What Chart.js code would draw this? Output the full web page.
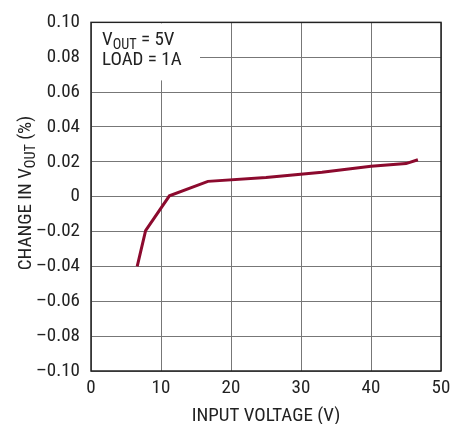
<!DOCTYPE html>
<html>
<head>
<meta charset="utf-8">
<script src="https://cdn.jsdelivr.net/npm/chart.js@4"></script>
<style>
  html, body { margin: 0; padding: 0; background: #fff; }
  #wrap { width: 466px; height: 424px; }
</style>
</head>
<body>
<div id="wrap"><canvas id="chart" width="466" height="424"></canvas></div>
<script>
// Data
const inputVoltage = [6.6, 7.8, 11.2, 16.7, 25, 33, 40, 45, 46.7];
const changeInVout = [-0.04, -0.0195, 0.0005, 0.0088, 0.011, 0.014, 0.0175, 0.019, 0.0212];
const yTicks = [-0.10, -0.08, -0.06, -0.04, -0.02, 0, 0.02, 0.04, 0.06, 0.08, 0.10];
const xTicks = [0, 10, 20, 30, 40, 50];

const FONT = "'Roboto Condensed', 'Liberation Sans', Arial, sans-serif";
const SIZE = 19;
const lineColor = "#8c0a2e";

function fmtY(v) {
    if (Math.abs(v) < 1e-9) return "0";
    const s = Math.abs(v).toFixed(2);
    return v < 0 ? "\u2013" + s : s;
}

// draw text with a subscript part: parts = [[text, isSub], ...]
function drawParts(ctx, parts, x, y, size) {
    let cx = x;
    parts.forEach(([t, sub]) => {
        const fs = sub ? size * 0.75 : size;
        ctx.font = fs + "px " + FONT;
        ctx.fillText(t, cx, sub ? y + size * 0.2 : y);
        cx += ctx.measureText(t).width;
    });
    return cx - x;
}

function partsWidth(ctx, parts, size) {
    let w = 0;
    parts.forEach(([t, sub]) => {
        ctx.font = (sub ? size * 0.75 : size) + "px " + FONT;
        w += ctx.measureText(t).width;
    });
    return w;
}

const decorations = {
    id: "decorations",
    afterDraw(chart) {
        const { ctx, chartArea: a } = chart;
        ctx.save();
        // frame
        ctx.strokeStyle = "#222";
        ctx.lineWidth = 1.5;
        ctx.strokeRect(a.left, a.top, a.right - a.left, a.bottom - a.top);

        // label box
        ctx.fillStyle = "#fff";
        ctx.fillRect(a.left + 1, a.top + 1, 108, 57);
        ctx.fillStyle = "#222";
        ctx.textBaseline = "alphabetic";
        ctx.textAlign = "left";
        drawParts(ctx, [["V", false], ["OUT", true], [" = 5V", false]], 102, 45, SIZE);
        drawParts(ctx, [["LOAD = 1A", false]], 102, 65, SIZE);

        // x title
        ctx.textAlign = "center";
        ctx.font = SIZE + "px " + FONT;
        ctx.fillText("INPUT VOLTAGE (V)", (a.left + a.right) / 2, 421);

        // y title
        ctx.translate(31, 193);
        ctx.rotate(-Math.PI / 2);
        ctx.textAlign = "left";
        const yParts = [["CHANGE IN V", false], ["OUT", true], [" (%)", false]];
        const w = partsWidth(ctx, yParts, SIZE);
        drawParts(ctx, yParts, -w / 2, 0, SIZE);
        ctx.restore();
    }
};

new Chart(document.getElementById("chart"), {
    type: "line",
    data: {
        datasets: [{
            data: inputVoltage.map((x, i) => ({ x: x, y: changeInVout[i] })),
            borderColor: lineColor,
            borderWidth: 3,
            pointRadius: 0,
            tension: 0,
            fill: false
        }]
    },
    options: {
        responsive: false,
        animation: false,
        layout: { padding: { top: 19, right: 25, left: 0, bottom: 0 } },
        plugins: { legend: { display: false }, tooltip: { enabled: false } },
        scales: {
            x: {
                type: "linear",
                min: 0,
                max: 50,
                afterFit(scale) { scale.height = 53; },
                afterBuildTicks(scale) { scale.ticks = xTicks.map(v => ({ value: v })); },
                grid: { color: "#777", lineWidth: 1, drawTicks: false },
                border: { display: false },
                ticks: { color: "#222", font: { family: FONT, size: SIZE }, padding: 6, maxRotation: 0 }
            },
            y: {
                type: "linear",
                min: -0.10,
                max: 0.10,
                afterFit(scale) { scale.width = 91; },
                afterBuildTicks(scale) { scale.ticks = yTicks.map(v => ({ value: v })); },
                grid: { color: "#777", lineWidth: 1, drawTicks: false },
                border: { display: false },
                ticks: {
                    color: "#222",
                    font: { family: FONT, size: SIZE },
                    padding: 11,
                    callback: (v) => fmtY(v)
                }
            }
        }
    },
    plugins: [decorations]
});
</script>
</body>
</html>
